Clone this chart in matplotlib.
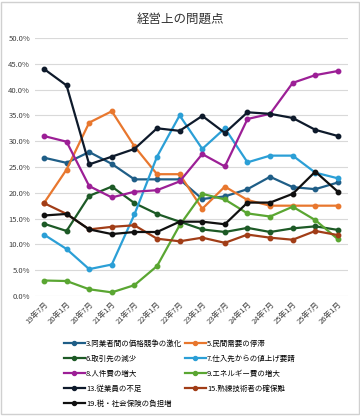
import matplotlib.pyplot as plt
from matplotlib.ticker import FuncFormatter

plt.rcParams['font.family'] = ['Noto Sans CJK JP', 'DejaVu Sans']

# survey periods
periods = ['19年7月', '20年1月', '20年7月', '21年1月', '21年7月', '22年1月', '22年7月',
           '23年1月', '23年7月', '24年1月', '24年7月', '25年1月', '25年7月', '26年1月']

# share of answers (%) per issue
s3 = [26.8, 25.8, 27.9, 25.6, 22.6, 22.6, 22.6, 18.8, 19.3, 20.7, 23.1, 21.1, 20.7, 22.0]
s5 = [18.0, 24.5, 33.6, 35.8, 29.0, 23.6, 23.6, 16.9, 21.2, 18.6, 17.5, 17.5, 17.5, 17.5]
s6 = [14.0, 12.6, 19.4, 21.2, 18.0, 15.9, 14.4, 12.9, 12.4, 13.2, 12.4, 13.1, 13.5, 12.8]
s7 = [11.9, 9.1, 5.2, 6.1, 15.8, 27.0, 35.0, 28.5, 32.5, 25.9, 27.2, 27.2, 23.9, 22.8]
s8 = [31.0, 29.9, 21.3, 19.1, 20.2, 20.5, 22.2, 27.5, 25.1, 34.3, 35.3, 41.3, 42.8, 43.6]
s9 = [3.0, 2.9, 1.3, 0.7, 2.1, 5.8, 13.7, 19.8, 18.7, 16.0, 15.4, 17.3, 14.7, 11.0]
s13 = [44.0, 40.8, 25.5, 27.0, 28.5, 32.5, 32.0, 34.9, 31.6, 35.6, 35.3, 34.5, 32.2, 31.0]
s15 = [18.0, 15.9, 12.9, 13.4, 13.7, 11.1, 10.6, 11.3, 10.3, 11.9, 11.3, 10.9, 12.6, 11.8]
s19 = [15.6, 15.9, 12.9, 12.0, 12.4, 12.4, 14.4, 14.4, 13.9, 18.1, 18.1, 19.8, 24.1, 20.2]

labels = ['3.同業者間の価格競争の激化', '5.民間需要の停滞', '6.取引先の減少',
          '7.仕入先からの値上げ要請', '8.人件費の増大', '9.エネルギー費の増大',
          '13.従業員の不足', '15.熟練技術者の確保難', '19.税・社会保険の負担増']
series = [s3, s5, s6, s7, s8, s9, s13, s15, s19]
colors = ['#1f5e87', '#e8772e', '#1d5a26', '#2b9fd6', '#9c1f96', '#5aa632',
          '#0e1a2b', '#a13d17', '#101010']

fig = plt.figure(figsize=(3.6, 4.16), dpi=100)
ax = fig.add_axes([0.097, 0.2885, 0.87, 0.6202])

x = list(range(len(periods)))
handles = []
for vals, lab, c in zip(series, labels, colors):
    h, = ax.plot(x, vals, color=c, lw=1.6, marker='o', ms=3.2,
                 markerfacecolor=c, markeredgecolor=c, label=lab)
    handles.append(h)

ax.set_ylim(0, 50)
ax.set_xlim(-0.4, 13.45)
ax.set_yticks(range(0, 51, 5))
ax.yaxis.set_major_formatter(FuncFormatter(lambda v, p: f'{v:.1f}%'))
ax.set_xticks(x)
ax.set_xticklabels(periods, rotation=45, ha='right', rotation_mode='anchor')
ax.tick_params(axis='both', length=0, labelsize=5.5, colors='#404040')
ax.tick_params(axis='x', pad=3)
ax.grid(axis='y', color='#d9d9d9', lw=0.8)
ax.set_axisbelow(True)
for sp in ax.spines.values():
    sp.set_visible(False)

fig.text(0.5, 0.955, '経営上の問題点', ha='center', va='center', fontsize=9, color='#333333')

# row-major order for a 2-column legend
order = [0, 2, 4, 6, 8, 1, 3, 5, 7]
fig.legend([handles[i] for i in order], [labels[i] for i in order],
           loc='upper center', bbox_to_anchor=(0.5, 0.2), ncol=2,
           frameon=False, fontsize=5.4, handlelength=2.7, columnspacing=0.4,
           labelspacing=0.95, handletextpad=0.2, markerscale=0.9)

fig.patches.append(plt.Rectangle((0.004, 0.004), 0.992, 0.992, transform=fig.transFigure,
                                 fill=False, ec='#d0d0d0', lw=1))

fig.savefig('out.png', dpi=100)
